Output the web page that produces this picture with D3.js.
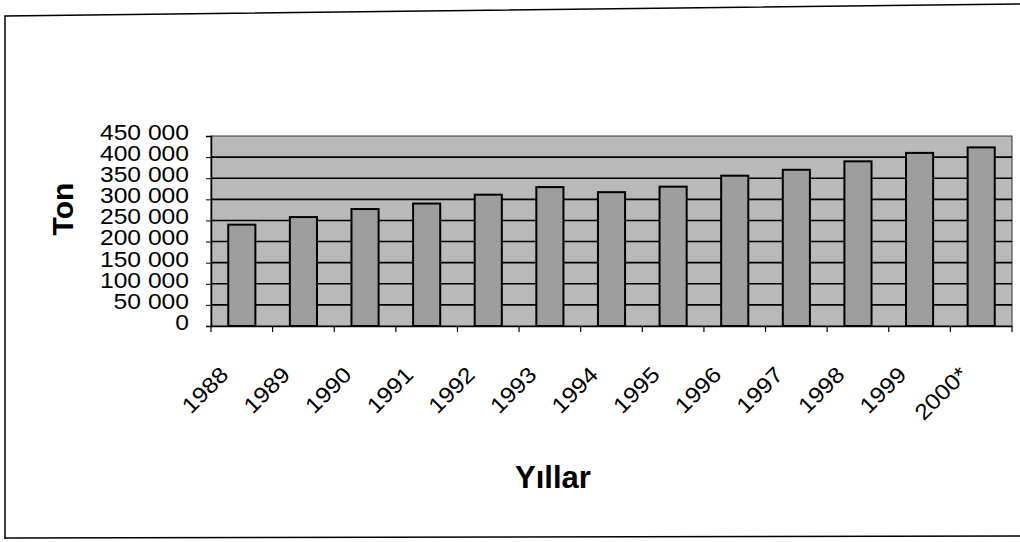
<!DOCTYPE html>
<html>
<head>
<meta charset="utf-8">
<script src="https://cdnjs.cloudflare.com/ajax/libs/d3/7.8.5/d3.min.js"></script>
<style>
  html, body { margin: 0; padding: 0; background: #fff; }
  svg { display: block; font-family: "Liberation Sans", Arial, sans-serif; }
</style>
</head>
<body>
<svg id="chart" width="1020" height="542"></svg>
<script>
// Data
var years = ["1988", "1989", "1990", "1991", "1992", "1993", "1994",
             "1995", "1996", "1997", "1998", "1999", "2000*"];
var tons = [240000, 258000, 277000, 290000, 311000, 329000, 317000,
            330000, 356000, 370000, 390000, 410000, 423000];
var yTicks = [0, 50000, 100000, 150000, 200000, 250000, 300000, 350000, 400000, 450000];
var yTitle = "Ton";
var xTitle = "Yıllar";

var plot = { left: 211, right: 1012, top: 136, bottom: 326 };
var stretch = 1.12;

var svg = d3.select("#chart");

var x = d3.scaleBand().domain(years).range([plot.left, plot.right]).padding(0);
var y = d3.scaleLinear().domain([0, 450000]).range([plot.bottom, plot.top]);

var fmt = d3.formatLocale({ decimal: ",", thousands: " ", grouping: [3], currency: ["", ""] }).format(",");

function widen() {
    var w = this.getComputedTextLength();
    d3.select(this).attr("textLength", w * stretch).attr("lengthAdjust", "spacingAndGlyphs");
}

// outer frame (scanned page, slightly skewed)
svg.append("path")
    .attr("d", "M5,539 L5,16 L1020,4")
    .attr("fill", "none")
    .attr("stroke", "#000")
    .attr("stroke-width", 1.5);
svg.append("line")
    .attr("x1", 5).attr("x2", 1020)
    .attr("y1", 538).attr("y2", 536)
    .attr("stroke", "#000")
    .attr("stroke-width", 1.5);

// plot area
svg.append("rect")
    .attr("x", plot.left).attr("y", plot.top)
    .attr("width", plot.right - plot.left)
    .attr("height", plot.bottom - plot.top)
    .attr("fill", "#b9b9b9")
    .attr("stroke", "#333")
    .attr("stroke-width", 1);

// gridlines
svg.append("g")
    .selectAll("line")
    .data(yTicks.filter(function (d) { return d > 0 && d < 450000; }))
    .enter()
    .append("line")
    .attr("x1", plot.left).attr("x2", plot.right)
    .attr("y1", function (d) { return y(d); })
    .attr("y2", function (d) { return y(d); })
    .attr("stroke", "#000")
    .attr("stroke-width", 1.6);

// bars
var barW = x.bandwidth() * 0.44;
svg.append("g")
    .selectAll("rect")
    .data(years)
    .enter()
    .append("rect")
    .attr("x", function (d) { return x(d) + (x.bandwidth() - barW) / 2; })
    .attr("y", function (d, i) { return y(tons[i]); })
    .attr("width", barW)
    .attr("height", function (d, i) { return y(0) - y(tons[i]); })
    .attr("fill", "#9e9e9e")
    .attr("stroke", "#000")
    .attr("stroke-width", 2);

// y axis
var yAxis = svg.append("g")
    .attr("transform", "translate(" + plot.left + ",0)")
    .call(d3.axisLeft(y).tickValues(yTicks).tickSize(5).tickFormat(""));
yAxis.select(".domain").attr("stroke-width", 1.5);

svg.append("g")
    .selectAll("text")
    .data(yTicks)
    .enter()
    .append("text")
    .attr("x", 189)
    .attr("y", function (d) { return y(d) - 4; })
    .attr("dy", "0.36em")
    .attr("text-anchor", "end")
    .attr("font-size", 22)
    .attr("fill", "#000")
    .text(function (d) { return fmt(d); })
    .each(widen);

// x axis
var xAxis = svg.append("g")
    .attr("transform", "translate(0," + plot.bottom + ")")
    .call(d3.axisBottom(x).tickSize(0).tickFormat(""));
xAxis.select(".domain").attr("stroke-width", 1.5);

svg.append("g")
    .selectAll("line")
    .data(years.concat(["end"]))
    .enter()
    .append("line")
    .attr("x1", function (d, i) { return plot.left + i * x.step(); })
    .attr("x2", function (d, i) { return plot.left + i * x.step(); })
    .attr("y1", plot.bottom)
    .attr("y2", plot.bottom + 6)
    .attr("stroke", "#000")
    .attr("stroke-width", 1.2);

svg.append("g")
    .selectAll("text")
    .data(years)
    .enter()
    .append("text")
    .attr("transform", function (d) {
        return "translate(" + (x(d) + x.bandwidth() / 2 - 12) + "," + (plot.bottom + 50) + ") rotate(-45)";
    })
    .attr("text-anchor", "end")
    .attr("font-size", 22)
    .attr("fill", "#000")
    .text(function (d) { return d; })
    .each(widen);

// axis titles
svg.append("text")
    .attr("transform", "translate(73,209) rotate(-90)")
    .attr("text-anchor", "middle")
    .attr("font-size", 30)
    .attr("font-weight", "bold")
    .text(yTitle);

svg.append("text")
    .attr("x", 553)
    .attr("y", 488)
    .attr("text-anchor", "middle")
    .attr("font-size", 31)
    .attr("font-weight", "bold")
    .text(xTitle);
</script>
</body>
</html>
